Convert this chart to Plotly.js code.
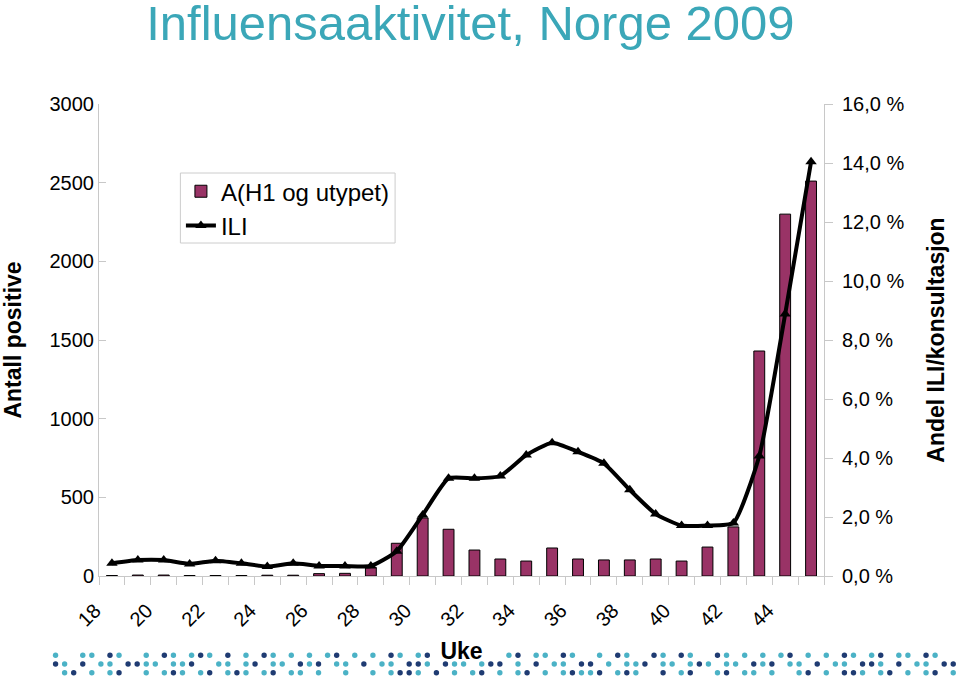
<!DOCTYPE html>
<html>
<head>
<meta charset="utf-8">
<script src="https://cdn.plot.ly/plotly-3.0.1.min.js"></script>
<style>html,body{margin:0;padding:0;background:#fff;}#chart{width:960px;height:677px;}</style>
</head>
<body>
<div id="chart"></div>
<script>
// ---- data ----
var weeks = [18,19,20,21,22,23,24,25,26,27,28,29,30,31,32,33,34,35,36,37,38,39,40,41,42,43,44,45];
var positives = [3,6,6,3,3,3,5,5,15,17,55,208,369,297,165,108,95,178,108,102,102,108,95,184,312,1430,2300,2510];
var iliPct = [0.43,0.54,0.54,0.41,0.52,0.43,0.32,0.43,0.34,0.34,0.34,0.84,2.07,3.31,3.31,3.39,4.10,4.52,4.21,3.82,2.92,2.10,1.71,1.71,1.80,4.07,8.88,14.04];
var xTickVals = [18,20,22,24,26,28,30,32,34,36,38,40,42,44];
var yLeftTicks = [0,500,1000,1500,2000,2500,3000];
var yRightTickVals = [0,2,4,6,8,10,12,14,16];
var yRightTickText = ["0,0 %","2,0 %","4,0 %","6,0 %","8,0 %","10,0 %","12,0 %","14,0 %","16,0 %"];
var seriesNames = ["A(H1 og utypet)", "ILI"];
// decorative dot band at the bottom: t = teal, n = navy, . = none
var dotRow1 = "t..tt.nt..t.nt.tnt.n.t.nt.t.t.tn.t.t.nt.tn........tn.tt.nt..t.nt..nt.nt..nt.t.t.tn.t.t.nt.tn.tt.nt..";
var dotRow2 = "nt.n.tt.nntt.ttn..tt.tn.tt.ntn.tt.n.tt.nnt.ntt.tnn.t.n.tt.nn.t.ttn.tt.tnt.tt.ntn.tt.n.tt.nnt.n.tt.nn";
var dotRow3 = ".tn.t.tn..t.tnt.tn.tnt.tn.tt.t..t..t.tnnt.n.t.tn.t.tn.t.tnttn.tnt..n.tn..tn.tt.t..tn.t.nnt.tn.t.tn.t";

// ---- geometry of the plot area (px) ----
var PL = 98.5, PR = 824.5, PT = 104, PB = 576;
function paperX(px){ return (px - PL) / (PR - PL); }
function paperY(py){ return (PB - py) / (PB - PT); }

// ---- decorative dots as paper shapes ----
var shapes = [];
var dotColors = {t: '#4BB2C6', n: '#1F3B72'};
[dotRow1, dotRow2, dotRow3].forEach(function(row, r){
  for (var k = 0; k < row.length; k++) {
    var c = row.charAt(k);
    if (c === '.') continue;
    var cx = 55 + 9.08 * k, cy = 655.2 + 8.8 * r, rad = 2.7;
    shapes.push({
      type: 'circle', xref: 'paper', yref: 'paper', layer: 'below',
      x0: paperX(cx - rad), x1: paperX(cx + rad),
      y0: paperY(cy + rad), y1: paperY(cy - rad),
      fillcolor: dotColors[c], line: {width: 0}
    });
  }
});
// legend frame
shapes.push({
  type: 'rect', xref: 'paper', yref: 'paper', layer: 'below',
  x0: paperX(180), x1: paperX(395), y0: paperY(243), y1: paperY(173),
  fillcolor: '#ffffff', line: {color: '#cccccc', width: 1}
});

var font = "Liberation Sans, Arial, Helvetica, sans-serif";

var traces = [
  {
    type: 'bar', name: seriesNames[0], x: weeks, y: positives,
    width: 0.42,
    marker: {color: '#993366', line: {color: '#000000', width: 1}},
    hoverinfo: 'skip'
  },
  {
    type: 'scatter', mode: 'lines+markers', name: seriesNames[1], x: weeks, y: iliPct,
    yaxis: 'y2',
    line: {color: '#000000', width: 4, shape: 'spline', smoothing: 0.5},
    marker: {symbol: 'triangle-up', size: 10, color: '#000000'},
    hoverinfo: 'skip'
  }
];

var layout = {
  width: 960, height: 677,
  margin: {l: PL, r: 960 - PR, t: PT, b: 677 - PB},
  paper_bgcolor: '#ffffff', plot_bgcolor: '#ffffff',
  font: {family: font, size: 20, color: '#000000'},
  showlegend: true,
  shapes: shapes,
  title: {
    text: 'Influensaaktivitet, Norge 2009',
    font: {family: font, size: 49, color: '#3BA7B8'},
    x: 0.49, xanchor: 'center', y: 0.966, yanchor: 'middle'
  },
  legend: {
    x: 0.113, y: 0.862, xanchor: 'left', yanchor: 'top',
    bgcolor: 'rgba(0,0,0,0)', borderwidth: 0,
    font: {family: font, size: 24, color: '#000000'},
    tracegroupgap: 0
  },
  xaxis: {
    range: [17.5, 45.5], tickmode: 'array', tickvals: xTickVals, tickangle: -45,
    showgrid: false, zeroline: false, showline: true, linecolor: '#c8c8c8', linewidth: 1,
    ticks: '', tickfont: {family: font, size: 20},
    ticklabelstandoff: 14, ticklabelshift: -17,
    minor: {ticks: 'outside', tick0: 17.5, dtick: 1, ticklen: 8, tickcolor: '#c8c8c8', showgrid: false},
    title: {text: '<b>Uke</b>', font: {family: font, size: 23}, standoff: 13}
  },
  yaxis: {
    range: [0, 3000], tickmode: 'array', tickvals: yLeftTicks,
    showgrid: false, zeroline: false, showline: true, linecolor: '#c8c8c8', linewidth: 1,
    ticks: 'inside', ticklen: 7, tickcolor: '#c8c8c8', tickfont: {family: font, size: 20},
    title: {text: '<b>Antall positive</b>', font: {family: font, size: 23}, standoff: 27}
  },
  yaxis2: {
    range: [0, 16], overlaying: 'y', side: 'right', tickmode: 'array',
    tickvals: yRightTickVals, ticktext: yRightTickText,
    showgrid: false, zeroline: false, showline: true, linecolor: '#c8c8c8', linewidth: 1,
    ticks: 'outside', ticklen: 8, tickcolor: '#c8c8c8', tickfont: {family: font, size: 20},
    ticklabelstandoff: 5,
    title: {text: '<b>Andel ILI/konsultasjon</b>', font: {family: font, size: 23}, standoff: 24}
  }
};

Plotly.newPlot('chart', traces, layout, {displayModeBar: false, staticPlot: true});
</script>
</body>
</html>
